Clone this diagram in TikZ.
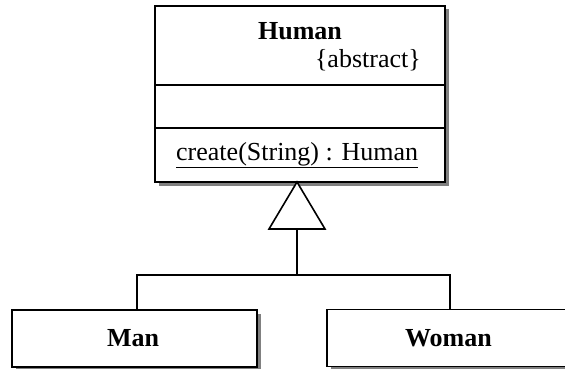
\documentclass[tikz,border=0pt]{standalone}
\usepackage{fontspec}
\setmainfont{Liberation Serif}
\usetikzlibrary{shadows}
\begin{document}
\begin{tikzpicture}[x=1pt,y=-1pt,
  classbox/.style={draw=black, line width=1.6pt, fill=white, inner sep=0pt,
    drop shadow={shadow xshift=3.5pt, shadow yshift=-3.5pt, fill=black!50, opacity=1}},
  lbl/.style={font=\fontsize{26}{29}\selectfont, inner sep=0pt},
  blbl/.style={font=\fontsize{26}{29}\selectfont\bfseries, inner sep=0pt},
  conn/.style={line width=1.6pt, line join=miter}
]
\useasboundingbox (0,0) rectangle (565,369);
% Human class
\node[classbox, minimum width=290pt, minimum height=176pt] (human) at (300,94) {};
\coordinate (d1l) at (155,85); \coordinate (d1r) at (445,85);
\coordinate (d2l) at (155,128); \coordinate (d2r) at (445,128);
\draw[conn] (d1l) -- (d1r);
\draw[conn] (d2l) -- (d2r);
\node[blbl] (hname) at (300,31) {Human};
\node[lbl, anchor=base east] (habs) at (421,67) {\{abstract\}};
\node[lbl, anchor=base west] (hop) at (176,160) {\underline{create(String) : Human}};
% subclasses
\node[classbox, minimum width=245pt, minimum height=57pt] (man) at (134.5,338.5) {};
\node[blbl] (manl) at (133,338) {Man};
\node[classbox, minimum width=243pt, minimum height=57pt] (woman) at (448.5,338) {};
\node[blbl] (womanl) at (448.5,338) {Woman};
% generalization
\coordinate (apex) at (297,182);
\coordinate (bl) at (269,229);
\coordinate (br) at (325,229);
\coordinate (tb) at (297,229);
\coordinate (jn) at (297,275);
\coordinate (mtop) at (137,310);
\coordinate (wtop) at (450,310);
\draw[conn, fill=white] (apex) -- (bl) -- (br) -- cycle;
\draw[conn] (tb) -- (jn);
\draw[conn] (mtop) |- (jn) -| (wtop);
\end{tikzpicture}
\end{document}
